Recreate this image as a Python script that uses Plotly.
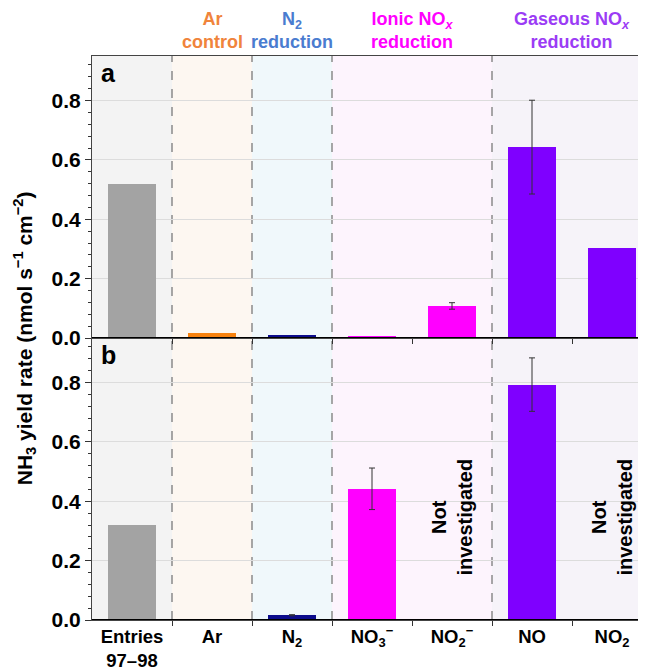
# %% Imports -------------------------------------------------------------------
import plotly.graph_objects as go
from plotly.subplots import make_subplots

# %% Data ----------------------------------------------------------------------

categories = [
    "Entries<br>97–98",
    "Ar",
    "N<sub>2</sub>",
    "NO<sub>3</sub><sup>−</sup>",
    "NO<sub>2</sub><sup>−</sup>",
    "NO",
    "NO<sub>2</sub>",
]
# panel a
rate_a = [0.52, 0.016, 0.009, 0.006, 0.108, 0.643, 0.303]
err_a = [None, None, None, None, 0.011, 0.158, None]
# panel b (Ar shows no bar, NO2- / NO2 not investigated)
rate_b = [0.32, None, 0.016, 0.442, None, 0.793, None]
err_b = [None, None, 0.002, 0.07, None, 0.09, None]

groups = ["Ar<br>control", "N<sub>2</sub><br>reduction",
          "Ionic NO<sub><i>x</i></sub><br>reduction",
          "Gaseous NO<sub><i>x</i></sub><br>reduction"]
group_pos = [1, 2, 3.5, 5.5]
not_investigated = [4, 6]

# %% Style ---------------------------------------------------------------------

font = "Liberation Sans"
bar_colors = ["#a3a3a3", "#f7820f", "#0d0d8c", "#ff00ff", "#ff00ff",
              "#7f00ff", "#7f00ff"]
group_colors = ["#f0843c", "#4a7cd0", "#ff00ff", "#9b3cf5"]
# background bands (x0, x1, colour)
bands = [(-0.5, 0.5, "#f3f3f3"), (0.5, 1.5, "#fdf7f1"), (1.5, 2.5, "#f0f8fb"),
         (2.5, 4.5, "#fdf4fd"), (4.5, 6.5, "#f6f3f9")]
dividers = [0.5, 1.5, 2.5, 4.5]
x = list(range(len(categories)))

# %% Figure --------------------------------------------------------------------

fig = make_subplots(rows=2, cols=1, shared_xaxes=True, vertical_spacing=0)

for row, rate, err in [(1, rate_a, err_a), (2, rate_b, err_b)]:
    fig.add_trace(
        go.Bar(x=x, y=rate, width=0.61,
               marker=dict(color=bar_colors, line=dict(width=0)),
               showlegend=False),
        row=row, col=1,
    )
    # error bars only where there is one
    keep = [i for i in x if err[i] is not None]
    fig.add_trace(
        go.Scatter(
            x=keep, y=[rate[i] for i in keep], mode="markers",
            marker=dict(size=1, color="rgba(0,0,0,0)"),
            error_y=dict(type="data", array=[err[i] for i in keep],
                         color="#333333", thickness=1, width=3),
            showlegend=False, hoverinfo="skip",
        ),
        row=row, col=1,
    )

for x0, x1, c in bands:
    fig.add_shape(type="rect", xref="x", yref="paper", x0=x0, x1=x1,
                  y0=0, y1=1, fillcolor=c, line_width=0, layer="below")
for d in dividers:
    fig.add_shape(type="line", xref="x", yref="paper", x0=d, x1=d, y0=0,
                  y1=1, line=dict(color="#8a8a8a", width=1.5, dash="dash"),
                  layer="between")
# baselines
for yr in ["y", "y2"]:
    fig.add_shape(type="line", xref="paper", yref=yr, x0=0, x1=1, y0=0,
                  y1=0, line=dict(color="black", width=2))

for g, p, c in zip(groups, group_pos, group_colors):
    fig.add_annotation(text=g, x=p, xref="x", y=1, yref="paper",
                       yanchor="bottom", yshift=3, showarrow=False,
                       borderpad=0,
                       font=dict(family=font, size=18, color=c, weight="bold"))

for xi in not_investigated:
    fig.add_annotation(text="Not<br>investigated", x=xi, xref="x2",
                       y=0.345, yref="y2", textangle=-90, showarrow=False,
                       font=dict(family=font, size=20, color="black",
                                 weight="bold"))

for lab, yy in [("a", 1), ("b", 0.5)]:
    fig.add_annotation(text=lab, x=0.012, xref="paper", xanchor="left",
                       y=yy, yref="paper", yanchor="top", yshift=-1,
                       showarrow=False,
                       font=dict(family=font, size=25, color="black",
                                 weight="bold"))

fig.add_annotation(
    text="NH<sub>3</sub> yield rate (nmol s<sup>−1</sup> cm<sup>−2</sup>)",
    x=-0.121, xref="paper", xanchor="center", y=0.5, yref="paper",
    textangle=-90, showarrow=False,
    font=dict(family=font, size=21, color="black", weight="bold"),
)

axis_common = dict(showline=True, mirror=True, linecolor="#444444",
                   linewidth=1)
fig.update_xaxes(
    range=[-0.5, 6.5], tickmode="array", tickvals=x, ticktext=categories,
    ticks="", showgrid=False, zeroline=False,
    minor=dict(tickmode="array", tickvals=dividers + [3.5, 5.5],
               ticks="outside", ticklen=5, tickcolor="#333333"),
    tickfont=dict(family=font, size=18.5, color="black", weight="bold"),
    **axis_common,
)
fig.update_xaxes(showticklabels=False, row=1, col=1)
fig.update_yaxes(
    range=[0, 0.95], tickmode="linear", tick0=0, dtick=0.2, tickformat=".1f",
    ticks="outside", ticklen=6, tickcolor="#333333",
    minor=dict(dtick=0.04, ticks="outside", ticklen=3, tickcolor="#333333"),
    showgrid=True, gridcolor="#dcdcdc", gridwidth=1, zeroline=False,
    tickfont=dict(family=font, size=21, color="black", weight="bold"),
    **axis_common,
)

fig.update_layout(
    width=646, height=671,
    margin=dict(l=84, r=2, t=48, b=59),
    paper_bgcolor="white", plot_bgcolor="white",
    bargap=0,
)

fig.write_html("out.html")
